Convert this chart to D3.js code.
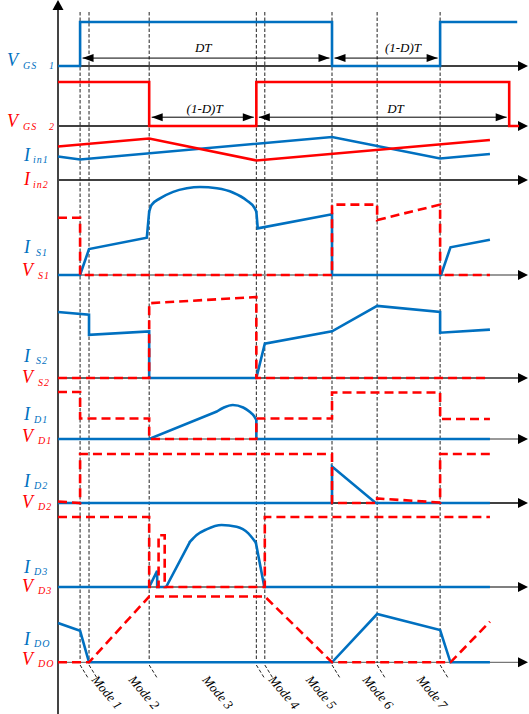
<!DOCTYPE html>
<html>
<head>
<meta charset="utf-8">
<script src="https://cdn.jsdelivr.net/npm/d3@7"></script>
<style>
  html, body { margin: 0; padding: 0; background: #fff; }
  svg { display: block; }
</style>
</head>
<body>
<script>
// ---- waveform data: [time, normalized level] (one switching period spans 0..100) ----
const modeTimes = [4.7, 6.6, 19.4, 42.2, 44.0, 58.3, 67.9, 81.3];
const modeNames = ["Mode 1", "Mode 2", "Mode 3", "Mode 4", "Mode 5", "Mode 6", "Mode 7"];

const vgs1 = [[0,0],[4.7,0],[4.7,1],[58.3,1],[58.3,0],[81.3,0],[81.3,1],[97.7,1]];
const vgs2 = [[0,1],[19.4,1],[19.4,0],[42.2,0],[42.2,1],[96.0,1],[96.0,0],[98.1,0]];

const iin1 = [[0,0.47],[4.7,0.41],[58.3,0.86],[81.3,0.43],[91.9,0.52]];
const iin2 = [[0,0.67],[19.4,0.83],[42.2,0.39],[91.9,0.80]];

const is1Head = [[0,0],[4.7,0],[6.6,0.295],[18.9,0.424],[19.4,0.72]];
const is1Arc  = [[19.4,0.72],[19.9,0.795],[21.7,0.87],[24.5,0.945],[27.4,0.985],[30.2,1.0],[33.8,0.985],[37.3,0.935],[40.1,0.85],[41.9,0.755],[42.2,0.72]];
const is1Tail = [[42.2,0.72],[42.5,0.53],[58.3,0.69],[58.3,0],[81.5,0],[83.5,0.315],[91.9,0.40]];
const vs1 = [[0,0.65],[4.7,0.65],[4.7,0],[58.3,0],[58.3,0.80],[67.9,0.80],[67.9,0.625],[81.3,0.80],[81.3,0],[91.9,0]];

const is2 = [[0,0.75],[6.6,0.72],[6.6,0.49],[19.4,0.53],[19.4,0],[42.2,0],[44.0,0.39],[58.3,0.53],[67.9,0.82],[81.3,0.75],[81.3,0.515],[91.9,0.55]];
const vs2 = [[0,0],[19.4,0],[19.4,0.85],[42.2,0.92],[42.2,0],[91.9,0]];

const id1Head = [[0,0],[19.4,0],[33.8,0.55]];
const id1Arc  = [[33.8,0.55],[35.3,0.63],[37.2,0.68],[39.4,0.63],[40.85,0.54],[41.7,0.46],[42.2,0.38]];
const id1Tail = [[42.2,0.38],[42.2,0],[91.9,0]];
const vd1 = [[0,0.94],[4.7,0.94],[4.7,0.41],[19.4,0.41],[19.4,0],[42.2,0],[42.2,0.41],[58.3,0.41],[58.3,0.93],[81.3,0.93],[81.3,0.40],[91.9,0.40]];

const id2 = [[0,0],[58.3,0],[58.3,0.73],[67.6,0],[91.9,0]];
const vd2 = [[0,0.03],[4.7,0],[4.7,0.98],[58.3,0.98],[58.3,0],[67.9,0],[67.9,0.09],[81.3,0.01],[81.3,0.98],[91.9,0.98]];

const id3Head = [[0,0],[19.4,0],[21.1,0.23],[21.1,0],[23.0,0],[28.1,0.647]];
const id3Arc  = [[28.1,0.647],[29.5,0.743],[31.6,0.824],[34.8,0.886],[38.0,0.861],[40.5,0.767],[42.1,0.633]];
const id3Tail = [[42.1,0.633],[43.9,0],[91.9,0]];
const vd3 = [[0,1],[19.4,1],[19.4,0],[21.4,0],[21.4,0.74],[22.7,0.74],[22.7,0],[44.0,0],[44.0,1],[91.9,1]];

const ido = [[0,0.56],[4.7,0.45],[6.6,0],[58.3,0],[67.9,0.69],[81.3,0.46],[83.5,0],[91.9,0]];
const vdo = [[0,0],[6.6,0],[19.4,0.94],[44.0,0.94],[58.3,0],[83.5,0],[91.9,0.58]];

// duty-cycle dimension arrows
const spans = [
  { row: "gs1", t0: 4.7,  t1: 58.3, text: "DT",     tText: 30.9 },
  { row: "gs1", t0: 58.3, t1: 81.3, text: "(1-D)T", tText: 73.4 },
  { row: "gs2", t0: 19.4, t1: 42.2, text: "(1-D)T", tText: 31.2 },
  { row: "gs2", t0: 42.2, t1: 96.0, text: "DT",     tText: 71.8 }
];

// ---- layout ----
const W = 529, H = 714;
const BLUE = "#0070C0", RED = "#FF0000";
const SERIF = "'Liberation Serif', 'Times New Roman', serif";

const rows = [
  { id: "gs1", y: 66,    h: 44, axis: "#000", arrowLevel: 0.18, textGap: 6 },
  { id: "gs2", y: 126,   h: 44, axis: "#000", arrowLevel: 0.20, textGap: 4 },
  { id: "in",  y: 180,   h: 50, axis: "#000" },
  { id: "s1",  y: 275,   h: 88, axis: "#777" },
  { id: "s2",  y: 378,   h: 88, axis: "#333" },
  { id: "d1",  y: 439,   h: 50, axis: "#777" },
  { id: "d2",  y: 503,   h: 50, axis: "#000" },
  { id: "d3",  y: 587,   h: 70, axis: "#555" },
  { id: "do",  y: 662.3, h: 70, axis: "#777" }
];
const rowById = {};
rows.forEach(r => {
  r.yScale = d3.scaleLinear().domain([0, 1]).range([r.y, r.y - r.h]);
  rowById[r.id] = r;
});

const x = d3.scaleLinear().domain([0, 100]).range([58, 528]);

const traces = [
  { row: "gs1", data: vgs1, color: BLUE },
  { row: "gs2", data: vgs2, color: RED },
  { row: "in",  data: iin1, color: BLUE },
  { row: "in",  data: iin2, color: RED },
  { row: "s1",  data: is1Head, color: BLUE },
  { row: "s1",  data: is1Arc,  color: BLUE, smooth: true },
  { row: "s1",  data: is1Tail, color: BLUE },
  { row: "s1",  data: vs1, color: RED, dashed: true },
  { row: "s2",  data: is2, color: BLUE },
  { row: "s2",  data: vs2, color: RED, dashed: true },
  { row: "d1",  data: id1Head, color: BLUE },
  { row: "d1",  data: id1Arc,  color: BLUE, smooth: true },
  { row: "d1",  data: id1Tail, color: BLUE },
  { row: "d1",  data: vd1, color: RED, dashed: true },
  { row: "d2",  data: id2, color: BLUE },
  { row: "d2",  data: vd2, color: RED, dashed: true },
  { row: "d3",  data: id3Head, color: BLUE },
  { row: "d3",  data: id3Arc,  color: BLUE, smooth: true },
  { row: "d3",  data: id3Tail, color: BLUE },
  { row: "d3",  data: vd3, color: RED, dashed: true },
  { row: "do",  data: ido, color: BLUE },
  { row: "do",  data: vdo, color: RED, dashed: true }
];

// left-hand signal names: [main letter, subscript, colour, main x, baseline, sub x, sub baseline, digit]
const labels = [
  ["V", "GS", BLUE, 7, 66, 23, 69, "1"],
  ["V", "GS", RED, 7, 127, 23, 130, "2"],
  ["I", "in1", BLUE, 24, 160.5, 33, 163],
  ["I", "in2", RED, 24, 185, 33, 187.5],
  ["I", "S1", BLUE, 24, 253, 36, 256],
  ["V", "S1", RED, 22, 276, 38, 278.5],
  ["I", "S2", BLUE, 24, 361.5, 36, 364],
  ["V", "S2", RED, 22, 383, 38, 386],
  ["I", "D1", BLUE, 24, 420, 34, 422.5],
  ["V", "D1", RED, 22, 441.5, 38, 443.5],
  ["I", "D2", BLUE, 24, 486.5, 34, 488.5],
  ["V", "D2", RED, 22, 508, 38, 510],
  ["I", "D3", BLUE, 24, 573, 34, 575],
  ["V", "D3", RED, 22, 591.5, 38, 593.5],
  ["I", "DO", BLUE, 24, 645, 34, 647],
  ["V", "DO", RED, 22, 665, 38, 667]
];

const modeLabelT = [7.0, 14.9, 30.6, 44.7, 52.6, 64.7, 76.2];

// ---- drawing ----
const svg = d3.select("body").append("svg")
  .attr("width", W).attr("height", H)
  .attr("viewBox", `0 0 ${W} ${H}`);

// horizontal time axes with arrow heads
const axes = svg.append("g");
rows.forEach(r => {
  axes.append("line")
    .attr("x1", x(0)).attr("x2", x(100) - 9)
    .attr("y1", r.y).attr("y2", r.y)
    .attr("stroke", r.axis).attr("stroke-width", 1.3);
  axes.append("path")
    .attr("d", `M${x(100)},${r.y} L${x(100) - 10},${r.y - 5} L${x(100) - 10},${r.y + 5} Z`)
    .attr("fill", "#000");
});

// vertical axis
axes.append("line")
  .attr("x1", x(0)).attr("x2", x(0))
  .attr("y1", 9).attr("y2", H)
  .attr("stroke", "#444").attr("stroke-width", 2);
axes.append("path")
  .attr("d", `M${x(0)},0 L${x(0) - 5.5},10 L${x(0) + 5.5},10 Z`)
  .attr("fill", "#000");

// mode boundaries
const grid = svg.append("g")
  .attr("stroke", "#222").attr("stroke-width", 1)
  .attr("stroke-dasharray", "3.5,2").attr("fill", "none");
modeTimes.forEach(t => {
  grid.append("line")
    .attr("x1", x(t)).attr("x2", x(t))
    .attr("y1", 12).attr("y2", 663);
  grid.append("line")
    .attr("x1", x(t)).attr("x2", x(t) + 8)
    .attr("y1", 665).attr("y2", 678);
});

// waveforms
const traceG = svg.append("g").attr("fill", "none");
traces.forEach(tr => {
  const r = rowById[tr.row];
  const line = d3.line()
    .x(d => x(d[0]))
    .y(d => r.yScale(d[1]))
    .curve(tr.smooth ? d3.curveMonotoneX : d3.curveLinear);
  traceG.append("path")
    .attr("d", line(tr.data))
    .attr("stroke", tr.color)
    .attr("stroke-width", 2.6)
    .attr("stroke-linejoin", "miter")
    .attr("stroke-linecap", tr.smooth ? "round" : "butt")
    .attr("stroke-dasharray", tr.dashed ? "9,5" : null);
});

// dimension arrows for DT and (1-D)T
const dimG = svg.append("g");
spans.forEach(s => {
  const r = rowById[s.row];
  const yy = r.yScale(r.arrowLevel);
  const xa = x(s.t0) + 2.5, xb = x(s.t1) - 2.5;
  dimG.append("line")
    .attr("x1", xa).attr("x2", xb).attr("y1", yy).attr("y2", yy)
    .attr("stroke", "#000").attr("stroke-width", 1);
  dimG.append("path")
    .attr("d", `M${xa},${yy} L${xa + 11},${yy - 4} L${xa + 11},${yy + 4} Z`)
    .attr("fill", "#000");
  dimG.append("path")
    .attr("d", `M${xb},${yy} L${xb - 11},${yy - 4} L${xb - 11},${yy + 4} Z`)
    .attr("fill", "#000");
  dimG.append("text")
    .attr("x", x(s.tText)).attr("y", yy - r.textGap)
    .attr("text-anchor", "middle")
    .attr("font-family", SERIF).attr("font-style", "italic")
    .attr("font-size", 13).attr("fill", "#000")
    .text(s.text);
});

// signal names
const labG = svg.append("g")
  .attr("font-family", SERIF).attr("font-style", "italic");
labels.forEach(l => {
  const [main, sub, color, mx, my, sx, sy, digit] = l;
  labG.append("text")
    .attr("x", mx).attr("y", my)
    .attr("font-size", 18).attr("fill", color)
    .text(main);
  labG.append("text")
    .attr("x", sx).attr("y", sy)
    .attr("font-size", 10).attr("letter-spacing", 1).attr("fill", color)
    .text(sub);
  if (digit) {
    labG.append("text")
      .attr("x", 49).attr("y", sy)
      .attr("font-size", 10).attr("fill", color)
      .text(digit);
  }
});

// mode names, slanted under the time axis
const modeG = svg.append("g")
  .attr("font-family", SERIF).attr("font-style", "italic")
  .attr("font-size", 13).attr("fill", "#000");
modeNames.forEach((m, i) => {
  modeG.append("text")
    .attr("transform", `translate(${x(modeLabelT[i])},680) rotate(50)`)
    .text(m);
});
</script>
</body>
</html>
